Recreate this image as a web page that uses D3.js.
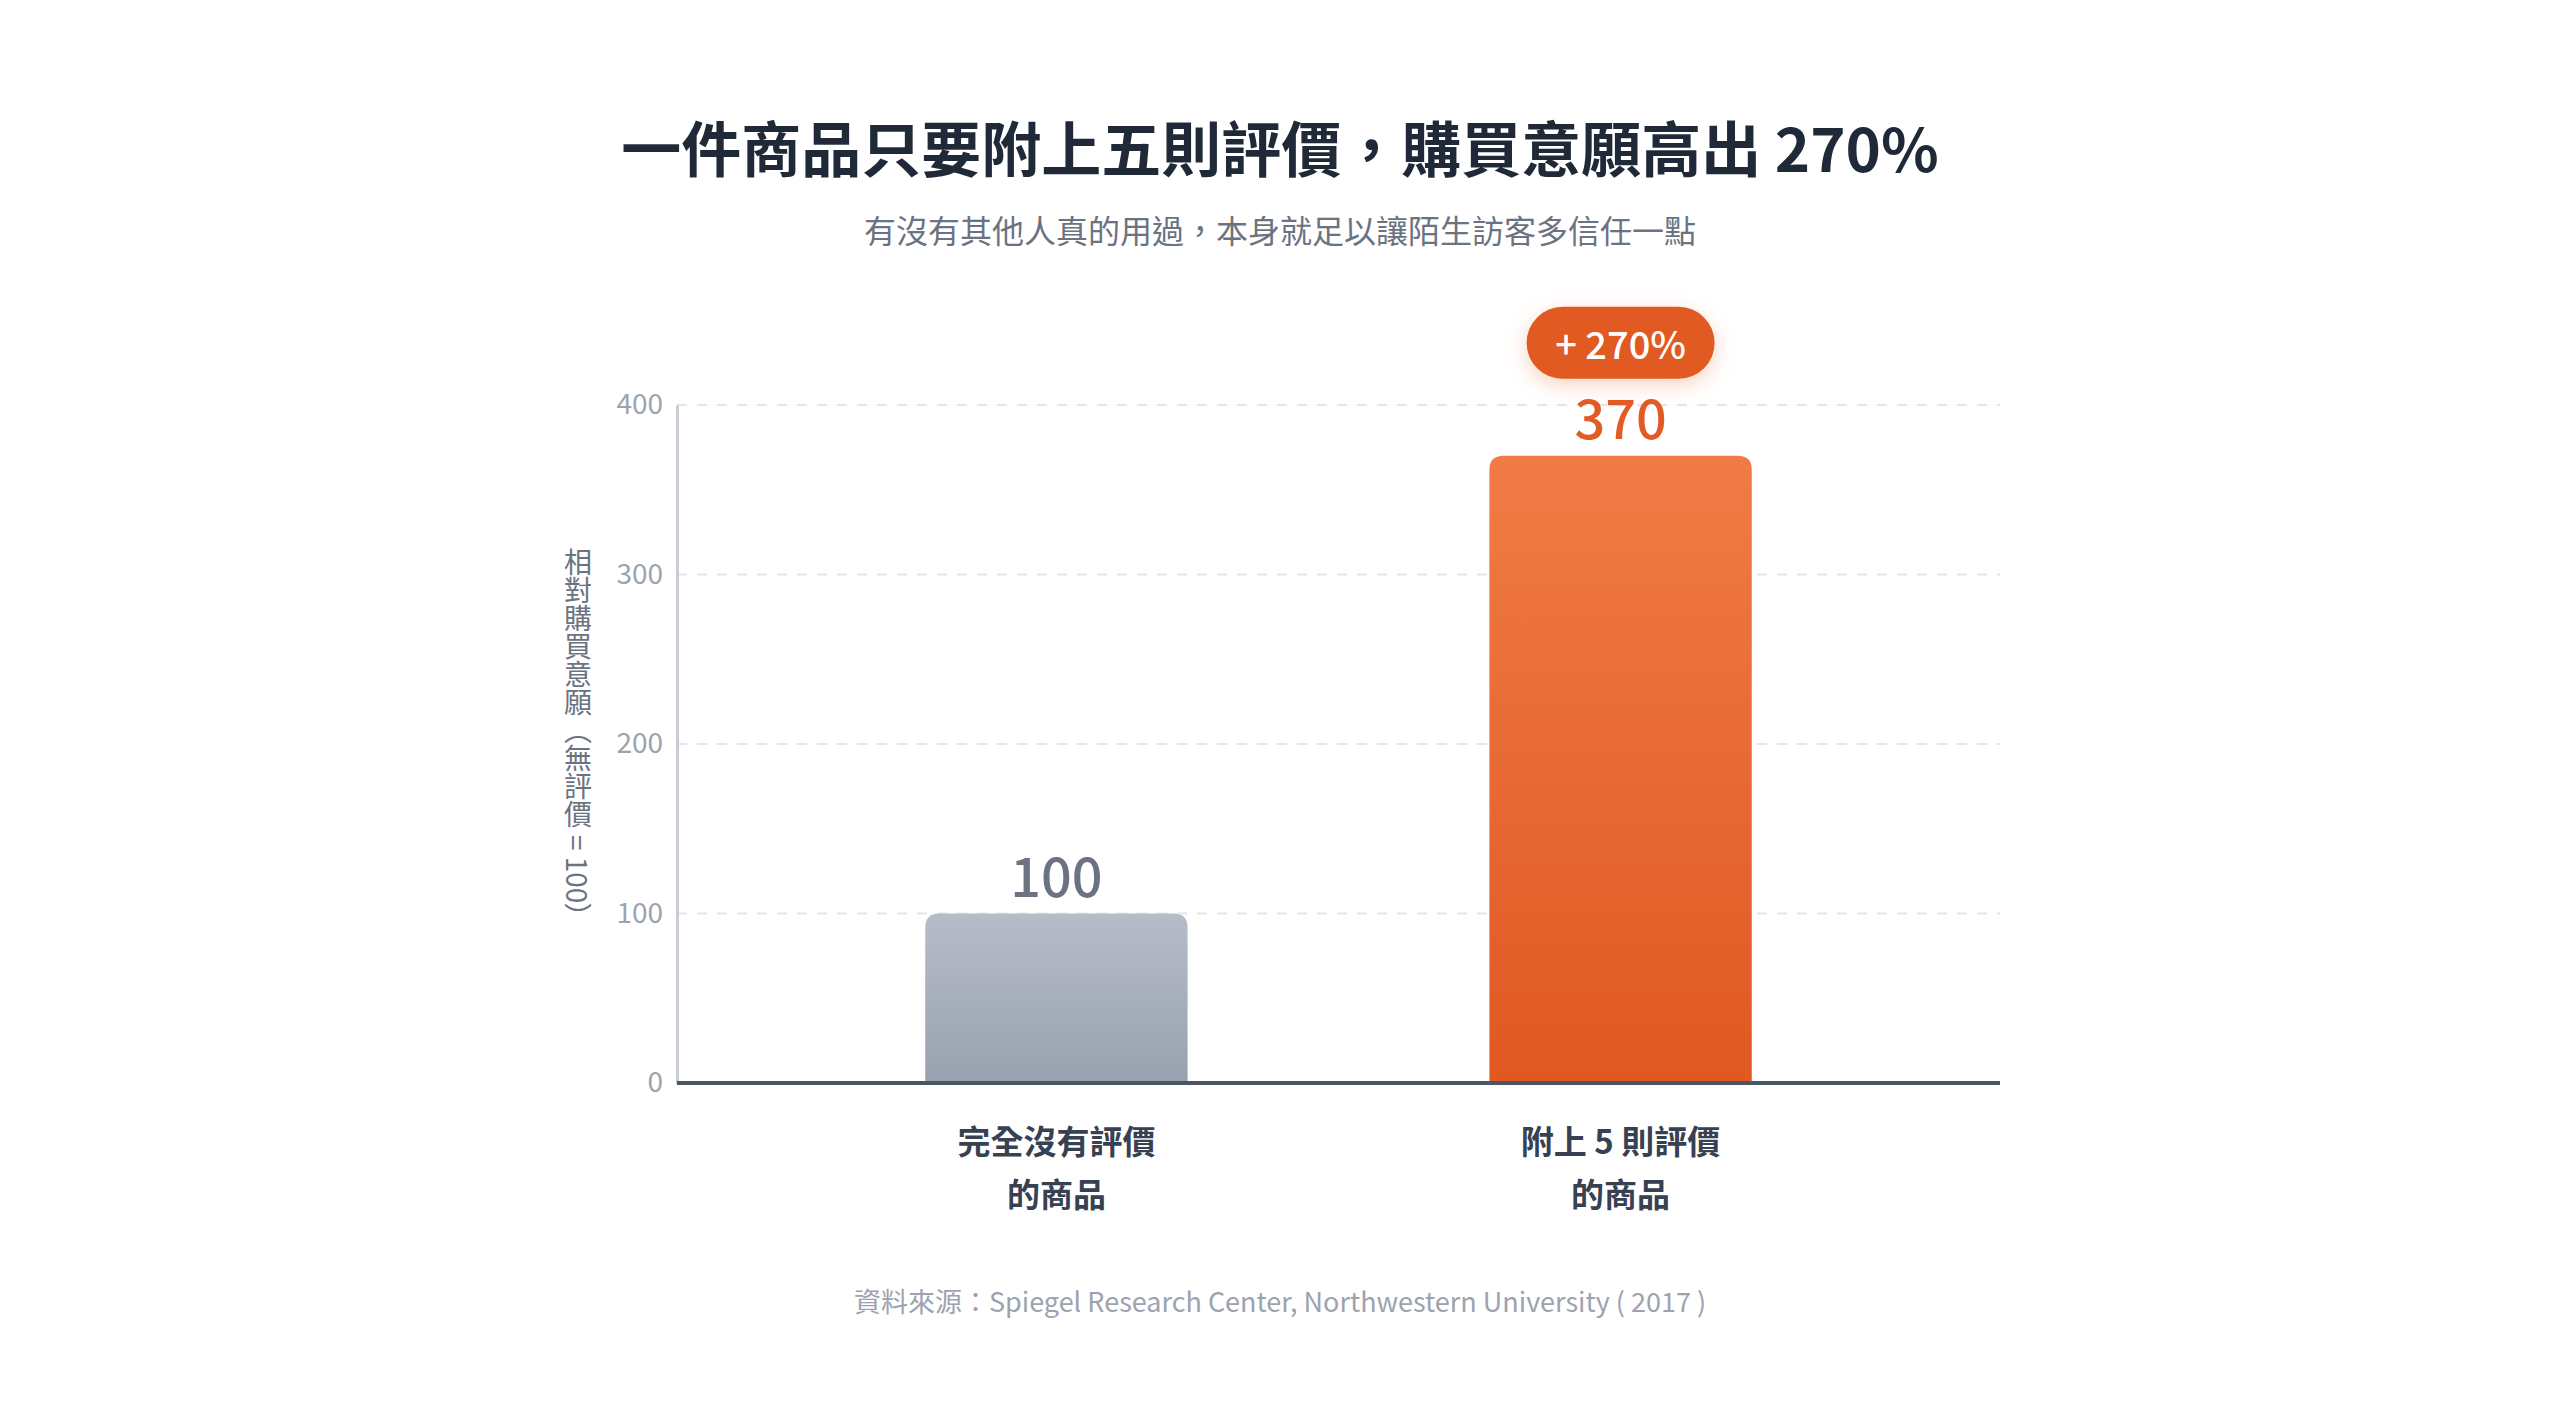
<!DOCTYPE html>
<html>
<head>
<meta charset="utf-8">
<script src="https://cdn.jsdelivr.net/npm/d3@7"></script>
<style>
  html, body { margin: 0; padding: 0; background: #ffffff; }
  text { font-family: "Noto Sans CJK TC", "Noto Sans", sans-serif; }
</style>
</head>
<body>
<div id="chart"></div>
<script>
// chart data
var categories = [["完全沒有評價", "的商品"], ["附上 5 則評價", "的商品"]];
var values = [100, 370];
var yTicks = [0, 100, 200, 300, 400];
var badgeText = "+ 270%";
var titleText = "一件商品只要附上五則評價，購買意願高出 270%";
var subtitleText = "有沒有其他人真的用過，本身就足以讓陌生訪客多信任一點";
var yAxisTitle = "相對購買意願（無評價 = 100）";
var sourceText = "資料來源：Spiegel Research Center, Northwestern University ( 2017 )";

render_chart();

function render_chart() {
  var width = 2560, height = 1408;
  var plotL = 677, plotR = 2000, plotT = 405, plotB = 1083;

  var svg = d3.select("#chart").append("svg")
    .attr("width", width)
    .attr("height", height);

  var defs = svg.append("defs");

  function grad(id, c1, c2) {
    var g = defs.append("linearGradient").attr("id", id)
      .attr("x1", 0).attr("y1", 0).attr("x2", 0).attr("y2", 1);
    g.append("stop").attr("offset", "0%").attr("stop-color", c1);
    g.append("stop").attr("offset", "100%").attr("stop-color", c2);
  }
  grad("g0", "#b6bdc8", "#98a1ae");
  grad("g1", "#f07b46", "#e05822");

  var f = defs.append("filter").attr("id", "glow")
    .attr("x", "-40%").attr("y", "-60%").attr("width", "180%").attr("height", "220%");
  f.append("feDropShadow").attr("dx", 0).attr("dy", 6).attr("stdDeviation", 10)
    .attr("flood-color", "#f07b46").attr("flood-opacity", 0.35);

  var x = d3.scaleBand()
    .domain(d3.range(values.length))
    .range([plotL, plotR])
    .paddingInner(0.535)
    .paddingOuter(0.44);

  var y = d3.scaleLinear()
    .domain([0, 400])
    .range([plotB, plotT]);

  // title + subtitle
  svg.append("text")
    .attr("x", 1280).attr("y", 145)
    .attr("text-anchor", "middle").attr("dominant-baseline", "central")
    .attr("font-size", 60).attr("font-weight", 700).attr("fill", "#1f2937")
    .text(titleText);

  svg.append("text")
    .attr("x", 1280).attr("y", 229)
    .attr("text-anchor", "middle").attr("dominant-baseline", "central")
    .attr("font-size", 32).attr("fill", "#6b7280")
    .text(subtitleText);

  // gridlines
  svg.append("g").selectAll("line")
    .data(yTicks.filter(function(d){ return d > 0; }))
    .enter().append("line")
    .attr("x1", plotL).attr("x2", plotR)
    .attr("y1", function(d){ return y(d); })
    .attr("y2", function(d){ return y(d); })
    .attr("stroke", "#e3e6ea").attr("stroke-width", 2)
    .attr("stroke-dasharray", "10,10");

  // y axis
  var yAxis = svg.append("g")
    .attr("transform", "translate(" + plotL + ",0)")
    .call(d3.axisLeft(y).tickValues(yTicks).tickSize(0).tickPadding(14));
  yAxis.select(".domain").attr("stroke", "#c8ccd3").attr("stroke-width", 3);
  yAxis.selectAll("text")
    .attr("font-size", 28).attr("fill", "#9ca3af")
    .style("font-family", "'Noto Sans CJK TC', sans-serif");

  svg.append("text")
    .attr("x", 578).attr("y", (plotT + plotB) / 2 - 4)
    .attr("text-anchor", "middle")
    .style("writing-mode", "vertical-rl")
    .attr("font-size", 28).attr("fill", "#6b7280")
    .text(yAxisTitle);

  // bars with rounded tops
  function topRounded(x0, y0, w, h, r) {
    return "M" + x0 + "," + (y0 + h) +
      "V" + (y0 + r) +
      "Q" + x0 + "," + y0 + " " + (x0 + r) + "," + y0 +
      "H" + (x0 + w - r) +
      "Q" + (x0 + w) + "," + y0 + " " + (x0 + w) + "," + (y0 + r) +
      "V" + (y0 + h) + "Z";
  }

  svg.append("g").selectAll("path")
    .data(values)
    .enter().append("path")
    .attr("d", function(d, i) {
      return topRounded(x(i), y(d), x.bandwidth(), y(0) - y(d), 14);
    })
    .attr("fill", function(d, i){ return "url(#g" + i + ")"; });

  // baseline
  svg.append("line")
    .attr("x1", plotL).attr("x2", plotR)
    .attr("y1", y(0)).attr("y2", y(0))
    .attr("stroke", "#4b5563").attr("stroke-width", 4);

  // value labels
  svg.append("g").selectAll("text")
    .data(values)
    .enter().append("text")
    .attr("x", function(d, i){ return x(i) + x.bandwidth() / 2; })
    .attr("y", function(d){ return y(d) - 17; })
    .attr("text-anchor", "middle")
    .attr("font-size", 54).attr("font-weight", 500)
    .attr("fill", function(d, i){ return i === 1 ? "#e25a24" : "#6b7280"; })
    .text(function(d){ return d; });

  // badge
  var bx = x(1) + x.bandwidth() / 2, by = y(values[1]) - 113;
  var badge = svg.append("g").attr("transform", "translate(" + bx + "," + by + ")");
  badge.append("rect")
    .attr("x", -94).attr("y", -36).attr("width", 188).attr("height", 72)
    .attr("rx", 36).attr("fill", "#e05a22")
    .attr("filter", "url(#glow)");
  badge.append("text")
    .attr("text-anchor", "middle").attr("dominant-baseline", "central")
    .attr("font-size", 38).attr("font-weight", 500).attr("fill", "#ffffff")
    .text(badgeText);

  // category labels
  var cat = svg.append("g").selectAll("text")
    .data(categories)
    .enter().append("text")
    .attr("x", function(d, i){ return x(i) + x.bandwidth() / 2; })
    .attr("text-anchor", "middle")
    .attr("font-size", 33).attr("font-weight", 700).attr("fill", "#374151");
  cat.each(function(d) {
    var t = d3.select(this);
    d.forEach(function(line, j) {
      t.append("tspan")
        .attr("x", t.attr("x"))
        .attr("y", 1140 + j * 53)
        .attr("dominant-baseline", "central")
        .text(line);
    });
  });

  // source
  svg.append("text")
    .attr("x", 1280).attr("y", 1300)
    .attr("text-anchor", "middle").attr("dominant-baseline", "central")
    .attr("font-size", 27).attr("fill", "#9ca3af")
    .text(sourceText);
}
</script>
</body>
</html>
